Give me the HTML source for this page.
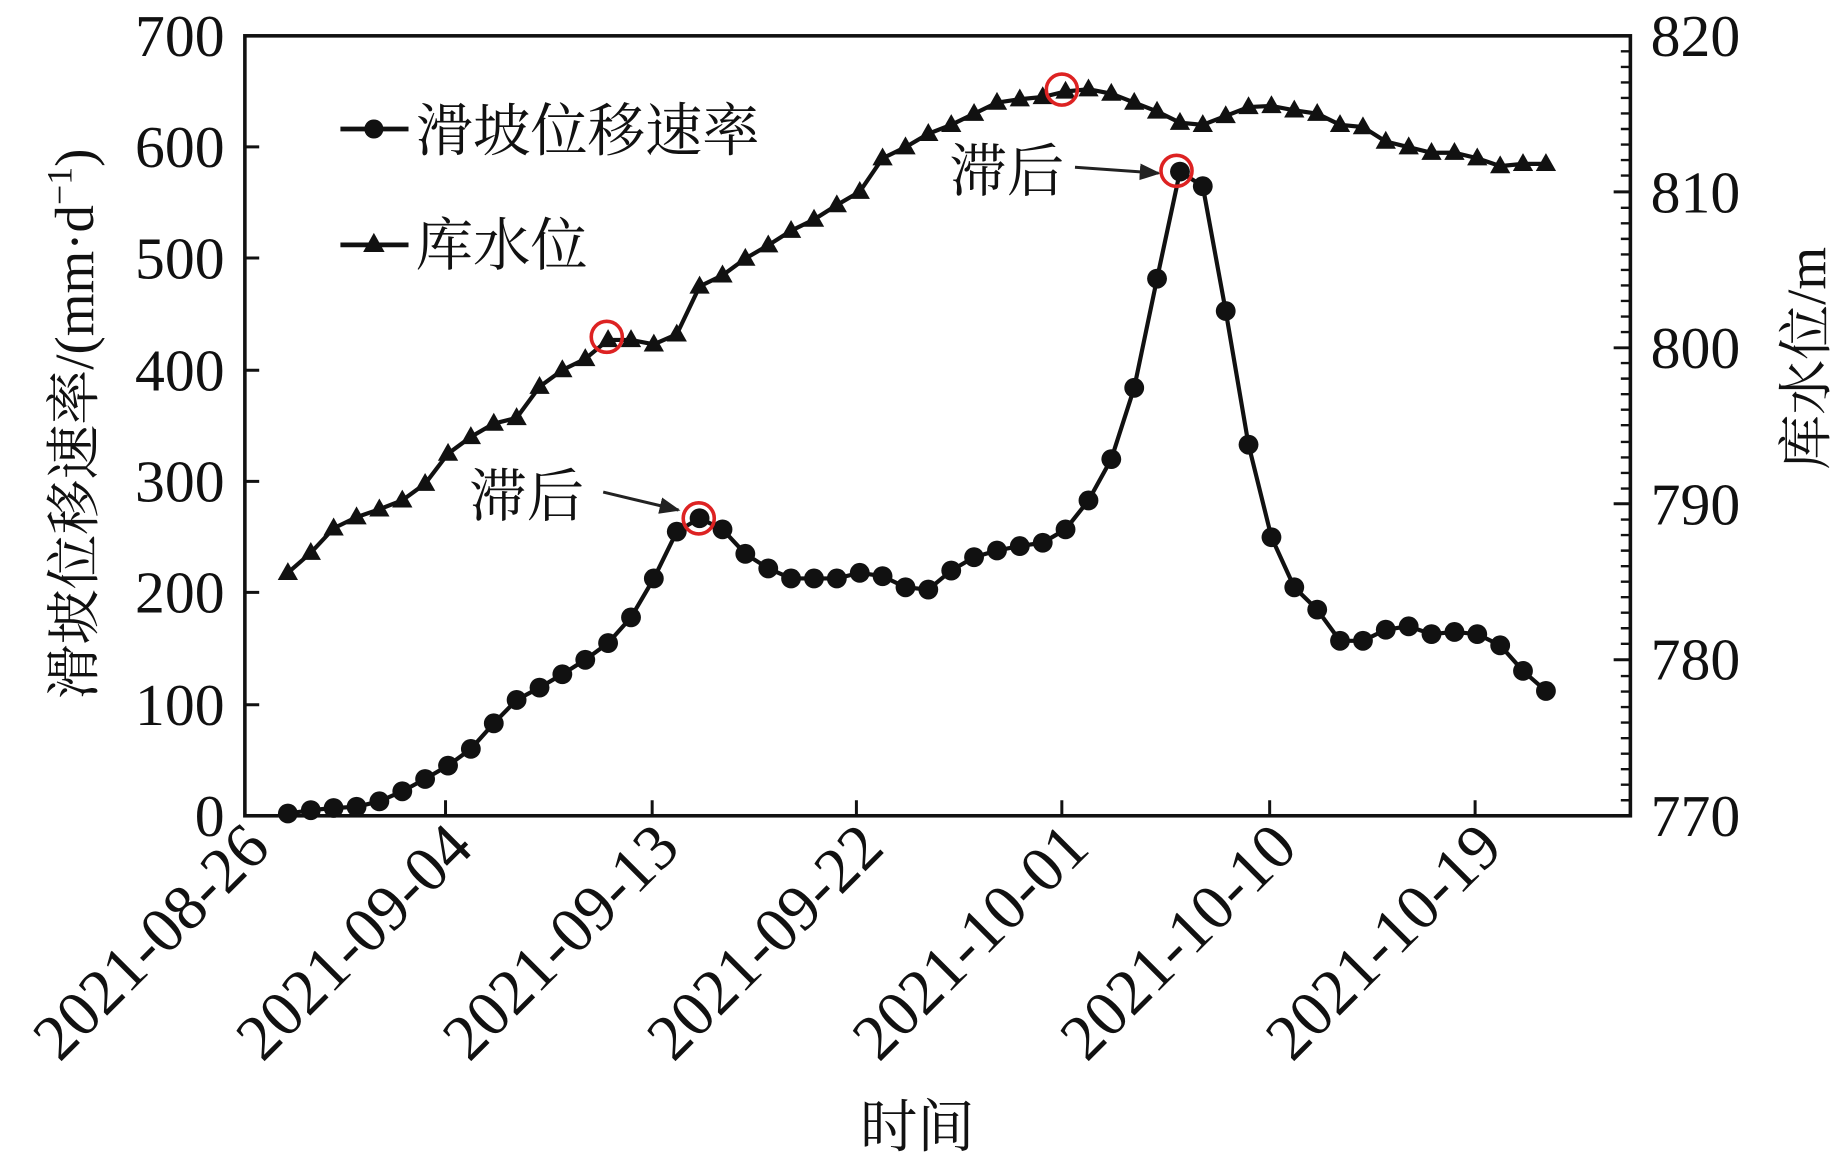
<!DOCTYPE html>
<html><head><meta charset="utf-8"><style>html,body{margin:0;padding:0;background:#fff}svg{display:block}</style></head><body>
<svg width="1843" height="1152" viewBox="0 0 1543 964.5" xmlns="http://www.w3.org/2000/svg" font-family="'Liberation Serif','Noto Serif CJK SC',serif">
<defs>
<marker id="ar" viewBox="0 0 10 10" refX="9" refY="5" markerWidth="7" markerHeight="7" orient="auto"><path d="M0,1 L10,5 L0,9 z" fill="#222"/></marker>
<marker id="dot" viewBox="-10 -10 20 20" refX="0" refY="0" markerWidth="20" markerHeight="20" markerUnits="userSpaceOnUse"><circle r="8.3" fill="#111"/></marker>
<marker id="tri" viewBox="-10 -10 20 20" refX="0" refY="0" markerWidth="20" markerHeight="20" markerUnits="userSpaceOnUse"><path d="M0,-9 L8.5,6 L-8.5,6 z" fill="#111"/></marker>
</defs>
<rect x="205" y="30" width="1160" height="653" fill="none" stroke="#111" stroke-width="3"/>
<g stroke="#111" stroke-width="2.5">
<path d="M205,683h12M205,590h12M205,496h12M205,403h12M205,310h12M205,216h12M205,123h12M205,30h12"/>
<path d="M373,683v-13M546,683v-13M717,683v-13M889,683v-13M1063,683v-13M1235,683v-13"/>
<path d="M1351,683h14M1351,552.4h14M1351,421.8h14M1351,291.2h14M1351,160.6h14M1351,30h14"/>
<path stroke-width="2" d="M1357,670h8M1357,657h8M1357,644h8M1357,631h8M1357,618h8M1357,605h8M1357,592h8M1357,579h8M1357,566h8M1357,539h8M1357,526h8M1357,513h8M1357,500h8M1357,487h8M1357,474h8M1357,461h8M1357,448h8M1357,435h8M1357,409h8M1357,396h8M1357,383h8M1357,370h8M1357,356h8M1357,343h8M1357,330h8M1357,317h8M1357,304h8M1357,278h8M1357,265h8M1357,252h8M1357,239h8M1357,226h8M1357,213h8M1357,200h8M1357,187h8M1357,174h8M1357,147h8M1357,134h8M1357,121h8M1357,108h8M1357,95h8M1357,82h8M1357,69h8M1357,56h8M1357,43h8"/>
</g>
<g font-size="50" fill="#111" text-anchor="end">
<text x="188" y="700">0</text><text x="188" y="607">100</text><text x="188" y="513">200</text><text x="188" y="420">300</text><text x="188" y="327">400</text><text x="188" y="233">500</text><text x="188" y="140">600</text><text x="188" y="47">700</text>
</g>
<g font-size="50" fill="#111" text-anchor="start">
<text x="1382" y="700">770</text><text x="1382" y="569">780</text><text x="1382" y="439">790</text><text x="1382" y="308">800</text><text x="1382" y="178">810</text><text x="1382" y="47">820</text>
</g>
<g font-size="54" fill="#111" text-anchor="end">
<text transform="translate(228,712) rotate(-45)">2021-08-26</text>
<text transform="translate(398,712) rotate(-45)">2021-09-04</text>
<text transform="translate(571,712) rotate(-45)">2021-09-13</text>
<text transform="translate(742,712) rotate(-45)">2021-09-22</text>
<text transform="translate(914,712) rotate(-45)">2021-10-01</text>
<text transform="translate(1088,712) rotate(-45)">2021-10-10</text>
<text transform="translate(1260,712) rotate(-45)">2021-10-19</text>
</g>
<text x="768" y="960" font-size="48" text-anchor="middle" fill="#111">时间</text>
<text transform="translate(78,355) rotate(-90)" font-size="46" text-anchor="middle" fill="#111">滑坡位移速率/(mm·d<tspan font-size="30" dy="-18">−1</tspan><tspan dy="18">)</tspan></text>
<text transform="translate(1528,300) rotate(-90)" font-size="46" text-anchor="middle" fill="#111">库水位/m</text>
<polyline fill="none" stroke="#111" stroke-width="3.5" marker-start="url(#tri)" marker-mid="url(#tri)" marker-end="url(#tri)" points="241.0,479.6 260.2,462.8 279.3,442.3 298.5,433.0 317.6,426.4 336.8,418.9 355.9,405.0 375.1,379.8 394.2,365.8 413.4,354.6 432.5,349.9 451.7,323.8 470.8,309.8 490.0,300.5 509.1,284.6 528.3,284.6 547.4,288.3 566.6,279.9 585.7,239.8 604.9,230.5 624.0,216.5 643.2,205.3 662.3,193.2 681.5,183.8 700.6,171.7 719.8,160.5 738.9,132.5 758.1,123.2 777.2,112.0 796.4,104.5 815.5,95.2 834.7,85.9 853.8,83.1 873.0,81.2 892.1,76.6 911.3,74.7 930.4,78.4 949.6,85.9 968.7,93.3 987.9,102.7 1007.0,104.5 1026.2,97.1 1045.3,89.6 1064.5,88.7 1083.6,92.4 1102.8,95.2 1121.9,104.5 1141.1,106.4 1160.2,118.5 1179.4,123.2 1198.5,127.9 1217.7,127.9 1236.8,132.5 1256.0,139.1 1275.1,137.2 1294.3,137.2"/>
<polyline fill="none" stroke="#111" stroke-width="3.5" marker-start="url(#dot)" marker-mid="url(#dot)" marker-end="url(#dot)" points="241.0,681.1 260.2,678.3 279.3,676.5 298.5,675.5 317.6,670.9 336.8,662.5 355.9,652.2 375.1,641.0 394.2,627.0 413.4,605.6 432.5,586.0 451.7,575.7 470.8,564.5 490.0,552.4 509.1,538.4 528.3,516.9 547.4,484.3 566.6,445.1 585.7,433.9 604.9,443.2 624.0,463.7 643.2,475.9 662.3,484.3 681.5,484.3 700.6,484.3 719.8,479.6 738.9,482.4 758.1,491.7 777.2,493.6 796.4,477.7 815.5,466.5 834.7,460.9 853.8,457.2 873.0,454.4 892.1,443.2 911.3,419.0 930.4,384.4 949.6,324.7 968.7,233.3 987.9,143.7 1007.0,155.9 1026.2,260.4 1045.3,372.3 1064.5,449.8 1083.6,491.7 1102.8,510.4 1121.9,536.5 1141.1,536.5 1160.2,527.2 1179.4,524.4 1198.5,530.9 1217.7,529.1 1236.8,530.9 1256.0,540.3 1275.1,561.7 1294.3,578.5"/>
<g fill="#111" font-size="48">
<line x1="285" y1="108" x2="342" y2="108" stroke="#111" stroke-width="4"/><circle cx="313" cy="108" r="8"/>
<text x="348" y="126">滑坡位移速率</text>
<line x1="285" y1="205" x2="342" y2="205" stroke="#111" stroke-width="4"/><path d="M313,195 L322,211 L304,211 z"/>
<text x="348" y="222">库水位</text>
<text x="393" y="432">滞后</text>
<text x="795" y="160">滞后</text>
</g>
<line x1="505" y1="412" x2="568" y2="427" stroke="#222" stroke-width="2.5" marker-end="url(#ar)"/>
<line x1="900" y1="140" x2="970" y2="145" stroke="#222" stroke-width="2.5" marker-end="url(#ar)"/>
<g fill="none" stroke="#d22" stroke-width="3">
<circle cx="508" cy="282" r="13"/><circle cx="889" cy="75" r="13"/><circle cx="585" cy="434" r="13"/><circle cx="985" cy="143" r="13"/>
</g>
</svg>
</body></html>
